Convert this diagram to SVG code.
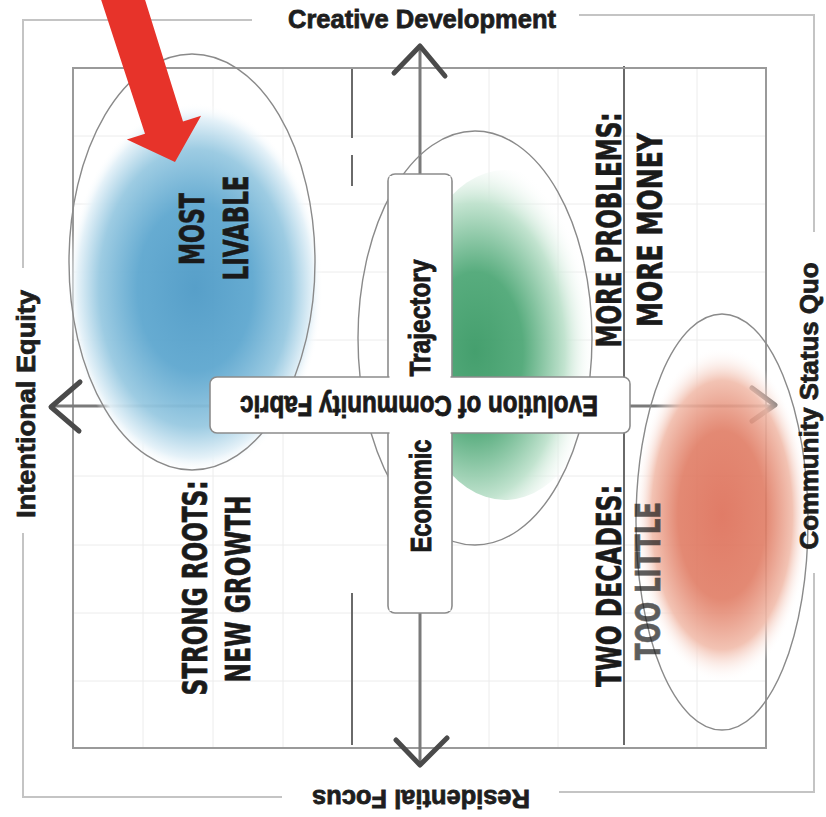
<svg xmlns="http://www.w3.org/2000/svg" width="826" height="817" viewBox="0 0 826 817">
  <style>
    .frame-outer { fill: none; stroke: #c4c4c4; stroke-width: 2; }
    .frame-inner { fill: none; stroke: #9a9a9a; stroke-width: 2; }
    .grid { fill: none; stroke: #ececec; stroke-width: 1; }
    .grid-dark { fill: none; stroke: #6a6a6a; stroke-width: 2; }
    .ring { fill: none; stroke: #8a8a8a; stroke-width: 1.4; }
    .axis { fill: none; stroke: #7a7a7a; stroke-width: 3; }
    .head { fill: none; stroke: #4a4a4a; stroke-width: 5; stroke-linecap: round; stroke-linejoin: round; }
    .axis-label { font-family: "Liberation Sans", Arial, sans-serif; font-weight: bold; font-size: 26px; fill: #1e1e1e; stroke: #1e1e1e; stroke-width: 0.8; }
    .box { fill: #ffffff; stroke: #8c8c8c; stroke-width: 1.6; }
    .box-fill { fill: #ffffff; stroke: none; }
    .box-label { font-family: "Liberation Sans", Arial, sans-serif; font-weight: bold; font-size: 29px; fill: #1a1a1a; stroke: #1a1a1a; stroke-width: 0.9; }
    .quad { font-family: "DejaVu Sans", "Liberation Sans", sans-serif; font-weight: bold; font-size: 34px; fill: #1a1a1a; stroke: #1a1a1a; stroke-width: 0.7; }
  </style>
  <defs>
    <radialGradient id="gBlue" cx="0.5" cy="0.5" r="0.5">
      <stop offset="0" stop-color="#4e9ac6"/>
      <stop offset="0.45" stop-color="#5ea7cf"/>
      <stop offset="0.75" stop-color="#98c9e1"/>
      <stop offset="0.92" stop-color="#e4f1f8"/>
      <stop offset="1" stop-color="#ffffff" stop-opacity="0"/>
    </radialGradient>
    <radialGradient id="gGreen" cx="0.35" cy="0.55" r="0.6">
      <stop offset="0" stop-color="#3b9a66"/>
      <stop offset="0.4" stop-color="#4fa877"/>
      <stop offset="0.75" stop-color="#bfe2cd"/>
      <stop offset="1" stop-color="#ffffff" stop-opacity="0"/>
    </radialGradient>
    <radialGradient id="gRed" cx="0.5" cy="0.5" r="0.5">
      <stop offset="0" stop-color="#dd6d56"/>
      <stop offset="0.5" stop-color="#e07c64"/>
      <stop offset="0.8" stop-color="#f1bcab"/>
      <stop offset="1" stop-color="#ffffff" stop-opacity="0"/>
    </radialGradient>
  </defs>

  <rect x="0" y="0" width="826" height="817" fill="#ffffff"/>

  <!-- background grid -->
  <g id="grid">
    <path class="grid" d="M143 68V748 M213 68V748 M283 68V748 M489 68V748 M558 68V748 M697 68V748
                          M73 136H766 M73 204H766 M73 272H766 M73 340H766 M73 476H766 M73 545H766 M73 613H766 M73 681H766"/>
    <path class="grid-dark" d="M352 68V138 M352 155V186 M352 593V745 M624 66V380 M624 433V745"/>
  </g>

  <!-- frames -->
  <g id="frames">
    <path class="frame-outer" d="M23 268V20H252 M23 533V797H282 M579 15H814V232 M814 573V792H559"/>
    <path class="frame-inner" d="M73 68H766V748H73Z"/>
  </g>

  <!-- axes -->
  <g id="connectors">
    <path class="axis" d="M420 47V765"/>
    <path class="axis" d="M52 406H775" stroke-width="2.5"/>
    <path class="head" d="M394 73L420 46L445 76"/>
    <path class="head" d="M396 740L420 765L447 738"/>
    <path class="head" d="M80 382L51 407L79 431"/>
    <path class="head" d="M752 388L775 405L752 421" stroke="#8a8a8a" stroke-width="3"/>
  </g>

  <!-- quadrant blobs -->
  <g id="blob-blue">
    <ellipse cx="195" cy="288" rx="128" ry="185" fill="url(#gBlue)" opacity="0.95"/>
    <ellipse class="ring" cx="192" cy="262" rx="123" ry="208"/>
  </g>
  <g id="blob-green">
    <ellipse cx="505" cy="335" rx="100" ry="165" fill="url(#gGreen)" opacity="0.95"/>
    <ellipse class="ring" cx="475" cy="338" rx="117" ry="207"/>
  </g>
  <g id="blob-red">
    <ellipse cx="722" cy="515" rx="88" ry="168" fill="url(#gRed)" opacity="0.9"/>
    <ellipse class="ring" cx="722" cy="522" rx="86" ry="208"/>
  </g>

  <!-- red pointer -->
  <g id="pointer">
    <polygon fill="#e7332a" points="100,-3.6 140,-16.4 183,121.6 201.1,115.8 175,162 126.9,139.6 145,133.8"/>
  </g>

  <!-- central cross of boxes -->
  <g id="center-cross">
    <rect class="box" x="388" y="174" width="64" height="439" rx="7"/>
    <rect class="box" x="210" y="377" width="420" height="56" rx="7"/>
    <rect class="box-fill" x="389.5" y="176" width="61" height="435"/>
    <text class="box-label" transform="translate(430,318) rotate(-90)" text-anchor="middle" textLength="117" lengthAdjust="spacingAndGlyphs">Trajectory</text>
    <text class="box-label" transform="translate(431,496) rotate(-90)" text-anchor="middle" textLength="113" lengthAdjust="spacingAndGlyphs">Economic</text>
    <text class="box-label" transform="translate(419,396) rotate(180)" text-anchor="middle" textLength="358" lengthAdjust="spacingAndGlyphs">Evolution of Community Fabric</text>
  </g>

  <!-- axis labels -->
  <g id="axis-labels">
    <text class="axis-label" x="422" y="28" text-anchor="middle" textLength="268" lengthAdjust="spacingAndGlyphs">Creative Development</text>
    <text class="axis-label" transform="translate(421,790) rotate(180)" text-anchor="middle" textLength="218" lengthAdjust="spacingAndGlyphs">Residential Focus</text>
    <text class="axis-label" transform="translate(35,404) rotate(-90)" text-anchor="middle" textLength="228" lengthAdjust="spacingAndGlyphs">Intentional Equity</text>
    <text class="axis-label" transform="translate(818,406) rotate(-90)" text-anchor="middle" textLength="287" lengthAdjust="spacingAndGlyphs" font-size="23">Community Status Quo</text>
  </g>

  <!-- quadrant labels -->
  <g id="label-most-livable">
    <text class="quad" transform="translate(204,229) rotate(-90)" text-anchor="middle" textLength="72" lengthAdjust="spacingAndGlyphs">MOST</text>
    <text class="quad" transform="translate(248,228) rotate(-90)" text-anchor="middle" textLength="105" lengthAdjust="spacingAndGlyphs">LIVABLE</text>
  </g>
  <g id="label-strong-roots">
    <text class="quad" transform="translate(207,588) rotate(-90)" text-anchor="middle" textLength="215" lengthAdjust="spacingAndGlyphs">STRONG ROOTS:</text>
    <text class="quad" transform="translate(250,589) rotate(-90)" text-anchor="middle" textLength="187" lengthAdjust="spacingAndGlyphs">NEW GROWTH</text>
  </g>
  <g id="label-more-problems">
    <text class="quad" transform="translate(621,230) rotate(-90)" text-anchor="middle" textLength="235" lengthAdjust="spacingAndGlyphs">MORE PROBLEMS:</text>
    <text class="quad" transform="translate(662,230) rotate(-90)" text-anchor="middle" textLength="194" lengthAdjust="spacingAndGlyphs">MORE MONEY</text>
  </g>
  <g id="label-two-decades">
    <text class="quad" transform="translate(621,586) rotate(-90)" text-anchor="middle" textLength="202" lengthAdjust="spacingAndGlyphs">TWO DECADES:</text>
    <text class="quad" transform="translate(660,581) rotate(-90)" text-anchor="middle" textLength="158" lengthAdjust="spacingAndGlyphs" opacity="0.7">TOO LITTLE</text>
  </g>
</svg>
